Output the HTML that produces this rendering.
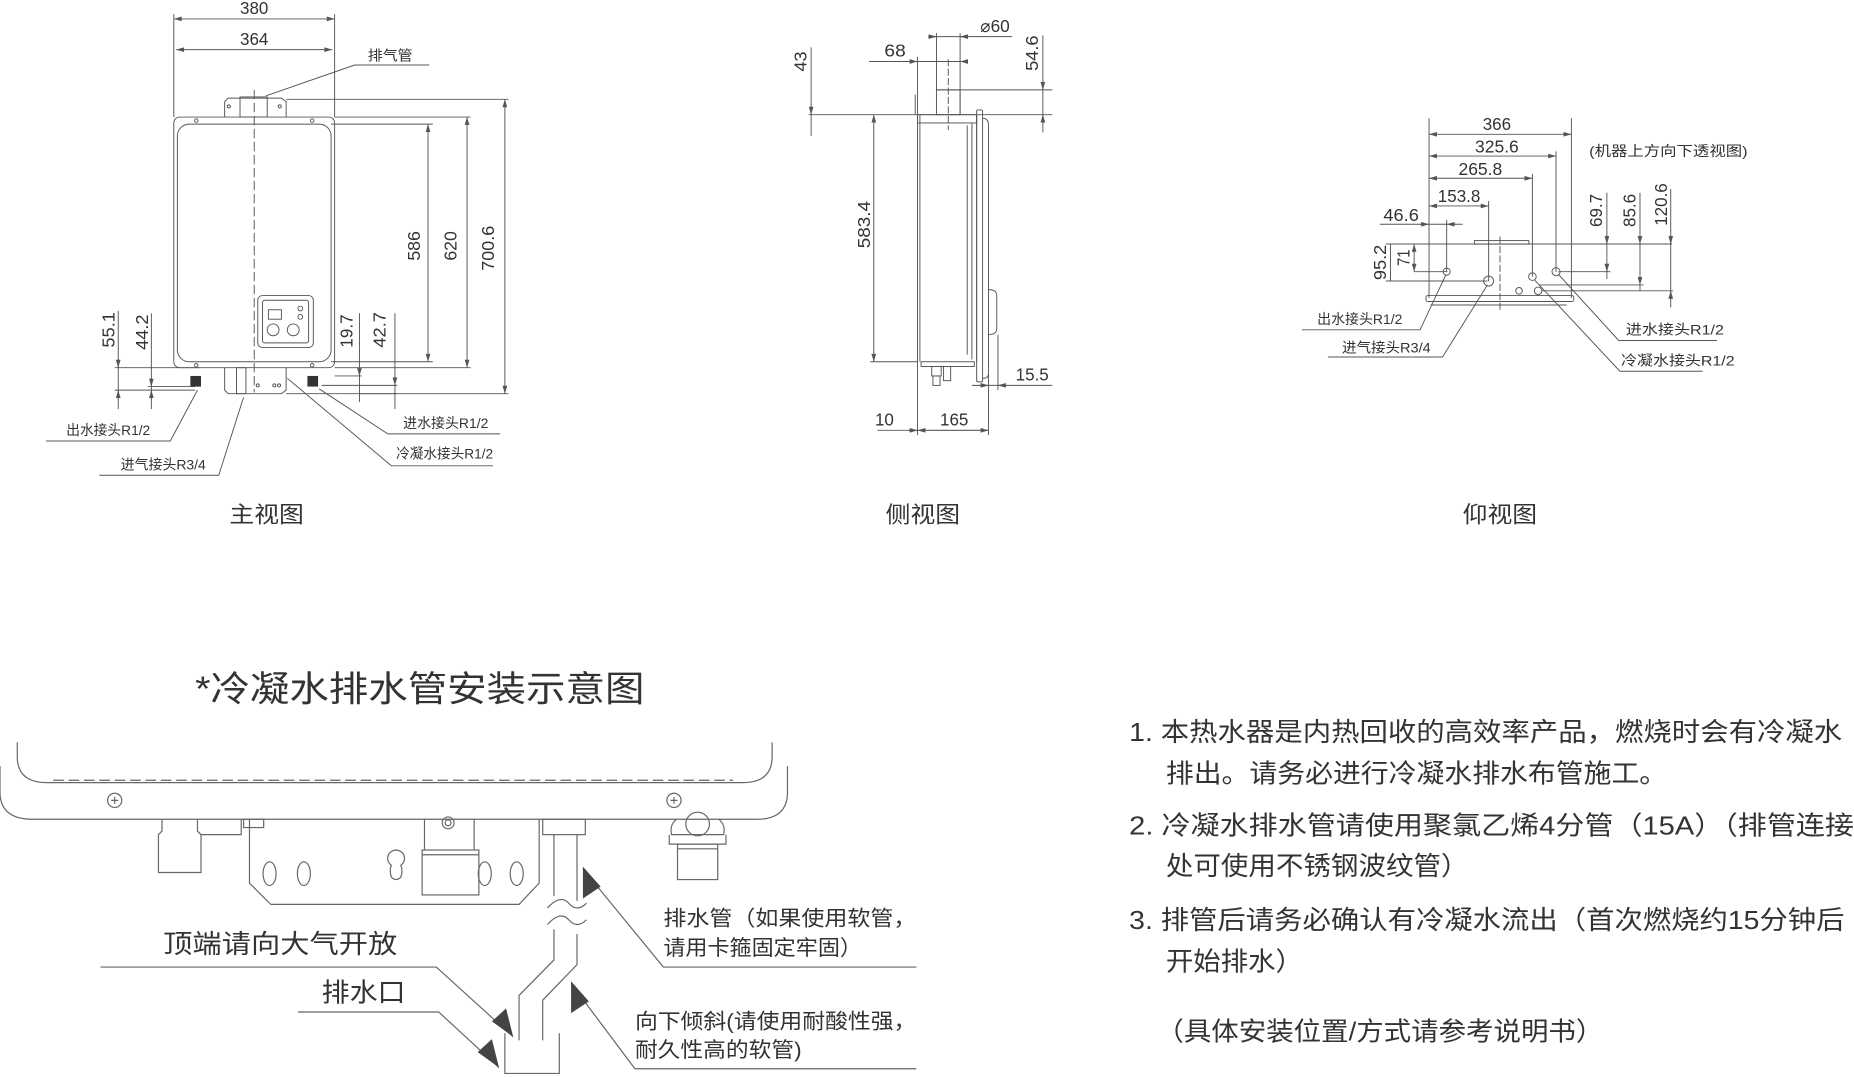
<!DOCTYPE html>
<html><head><meta charset="utf-8"><style>
html,body{margin:0;padding:0;background:#fff;}
svg{display:block}
text{font-family:"Liberation Sans","Noto Sans CJK SC",sans-serif;fill:#333}
</style></head><body>
<svg width="1854" height="1077" viewBox="0 0 1568 911" preserveAspectRatio="none" xmlns="http://www.w3.org/2000/svg">
<defs>
<marker id="a" viewBox="0 0 10 6" refX="10" refY="3" markerWidth="7" markerHeight="4" orient="auto-start-reverse" markerUnits="userSpaceOnUse"><path d="M0,0 L10,3 L0,6z" fill="#555"/></marker>
</defs>
<g stroke="#555" stroke-width="0.8" fill="none">
<line x1="147" y1="12" x2="147" y2="99"/>
<line x1="283" y1="12" x2="283" y2="99"/>
<line x1="147" y1="16" x2="283" y2="16" marker-start="url(#a)" marker-end="url(#a)"/>
<line x1="149" y1="42" x2="281" y2="42" marker-start="url(#a)" marker-end="url(#a)"/>
<path d="M190,99 V86 L193,83 H238 L242,86 V99"/>
<rect x="203" y="82" width="23" height="17"/>
<circle cx="193.5" cy="90" r="1.3"/><circle cx="236.6" cy="90" r="1.3"/>
<rect x="147" y="99" width="136" height="212" rx="5"/>
<rect x="150" y="105" width="130" height="201" rx="10"/>
<circle cx="166" cy="102" r="1.5"/><circle cx="264" cy="102" r="1.5"/>
<circle cx="166" cy="309" r="1.5"/><circle cx="264" cy="309" r="1.5"/>
<line x1="215" y1="76" x2="215" y2="332" stroke-dasharray="8,3"/>
<rect x="218" y="250" width="47" height="44" rx="4"/>
<rect x="222" y="254" width="39" height="36" rx="2"/>
<rect x="227" y="262" width="11" height="8"/>
<circle cx="231" cy="279" r="5"/><circle cx="248" cy="279" r="5"/>
<circle cx="254" cy="261" r="2"/><circle cx="254" cy="268" r="2"/>
<path d="M190,311 V330 L193,333 H238 L242,330 V311"/>
<rect x="200" y="311" width="8" height="22"/>
<circle cx="218" cy="326" r="1.3"/><circle cx="232" cy="326" r="1.3"/><circle cx="236" cy="326" r="1.3"/>
<line x1="280" y1="105" x2="366" y2="105"/>
<line x1="280" y1="306" x2="366" y2="306"/>
<line x1="362" y1="105" x2="362" y2="306" marker-start="url(#a)" marker-end="url(#a)"/>
<line x1="283" y1="99" x2="398" y2="99"/>
<line x1="283" y1="311" x2="398" y2="311"/>
<line x1="395" y1="99" x2="395" y2="311" marker-start="url(#a)" marker-end="url(#a)"/>
<line x1="242" y1="84" x2="430" y2="84"/>
<line x1="242" y1="333" x2="430" y2="333"/>
<line x1="427" y1="84" x2="427" y2="333" marker-start="url(#a)" marker-end="url(#a)"/>
<line x1="100" y1="263" x2="100" y2="346"/>
<line x1="128" y1="265" x2="128" y2="346"/>
<line x1="97" y1="311" x2="168" y2="311"/>
<line x1="125" y1="327" x2="165" y2="327"/>
<line x1="97" y1="330" x2="165" y2="330"/>
<path d="M100,304 L100,311" marker-end="url(#a)"/><path d="M100,338 L100,330" marker-end="url(#a)"/>
<path d="M128,320 L128,327" marker-end="url(#a)"/><path d="M128,338 L128,330" marker-end="url(#a)"/>
<line x1="304" y1="265" x2="304" y2="340"/>
<line x1="334" y1="265" x2="334" y2="346"/>
<line x1="283" y1="318" x2="306" y2="318"/>
<line x1="272" y1="326" x2="336" y2="326"/>
<line x1="304" y1="333" x2="336" y2="333"/>
<path d="M304,311 L304,318" marker-end="url(#a)"/><path d="M334,318 L334,326" marker-end="url(#a)"/>
<polyline points="363,55 300,55 225,81"/>
<polyline points="39,373 144,373 167,330"/>
<polyline points="84,402 185,402 206,336"/>
<polyline points="423,367 328,367 270,329"/>
<polyline points="417,394 331,394 243,320"/>

<line x1="776" y1="97" x2="776" y2="306"/>
<line x1="778" y1="97" x2="778" y2="306"/>
<rect x="776" y="97" width="50" height="7"/>
<line x1="826" y1="97" x2="826" y2="306"/>
<path d="M818,106 V300 M822,104 V304" />
<rect x="826" y="93" width="5" height="230" rx="1"/>
<path d="M831,100 Q836,100 836,106 V316 Q836,320 831,320"/>
<path d="M836,245 Q843,245 843,250 V278 Q843,283 836,283"/>
<line x1="774" y1="80" x2="774" y2="97"/>
<rect x="792" y="76" width="20" height="21"/>
<line x1="802" y1="50" x2="802" y2="110" stroke-dasharray="6,2"/>
<rect x="779" y="306" width="45" height="4"/>
<rect x="788" y="310" width="8" height="8"/><rect x="789" y="318" width="6" height="8"/>
<rect x="798" y="310" width="6" height="12"/>
<line x1="686" y1="40" x2="686" y2="115"/>
<path d="M686,90 L686,97" marker-end="url(#a)"/>
<line x1="684" y1="97" x2="890" y2="97"/>
<line x1="792" y1="76" x2="890" y2="76"/>
<line x1="735" y1="52" x2="816" y2="52"/>
<path d="M770,52 L776,52" marker-end="url(#a)"/><path d="M818,52 L812,52" marker-end="url(#a)"/>
<line x1="776" y1="48" x2="776" y2="97"/>
<line x1="787" y1="31" x2="856" y2="31"/>
<path d="M785,31 L792,31" marker-end="url(#a)"/><path d="M818,31 L812,31" marker-end="url(#a)"/>
<line x1="792" y1="28" x2="792" y2="76"/>
<line x1="812" y1="28" x2="812" y2="97"/>
<line x1="882" y1="30" x2="882" y2="112"/>
<path d="M882,69 L882,76" marker-end="url(#a)"/><path d="M882,104 L882,97" marker-end="url(#a)"/>
<line x1="739" y1="97" x2="739" y2="306" marker-start="url(#a)" marker-end="url(#a)"/>
<line x1="736" y1="306" x2="776" y2="306"/>
<line x1="776" y1="306" x2="776" y2="368"/>
<line x1="836" y1="316" x2="836" y2="368"/>
<line x1="844" y1="283" x2="844" y2="330"/>
<line x1="742" y1="364" x2="836" y2="364"/>
<path d="M768,364 L776,364" marker-end="url(#a)"/><path d="M776,364 L836,364" marker-start="url(#a)" marker-end="url(#a)"/>
<line x1="822" y1="326" x2="890" y2="326"/>
<path d="M828,326 L836,326" marker-end="url(#a)"/><path d="M852,326 L844,326" marker-end="url(#a)"/>

<line x1="1208.6" y1="100" x2="1208.6" y2="252"/>
<line x1="1329" y1="100" x2="1329" y2="252"/>
<line x1="1208.6" y1="113.6" x2="1329" y2="113.6" marker-start="url(#a)" marker-end="url(#a)"/>
<line x1="1208.6" y1="132" x2="1316" y2="132" marker-start="url(#a)" marker-end="url(#a)"/>
<line x1="1208.6" y1="150.8" x2="1296" y2="150.8" marker-start="url(#a)" marker-end="url(#a)"/>
<line x1="1208.6" y1="174.2" x2="1259" y2="174.2" marker-start="url(#a)" marker-end="url(#a)"/>
<line x1="1316" y1="128" x2="1316" y2="230"/>
<line x1="1296" y1="147" x2="1296" y2="234"/>
<line x1="1259" y1="170" x2="1259" y2="238"/>
<line x1="1223.5" y1="186" x2="1223.5" y2="230"/>
<line x1="1167" y1="189.7" x2="1237" y2="189.7"/>
<path d="M1201,189.7 L1208.6,189.7" marker-end="url(#a)"/><path d="M1231,189.7 L1223.5,189.7" marker-end="url(#a)"/>
<line x1="1172" y1="206.4" x2="1414" y2="206.4"/>
<rect x="1247" y="203.5" width="46" height="3"/>
<line x1="1268.6" y1="200" x2="1268.6" y2="262" stroke-dasharray="6,2"/>
<rect x="1206" y="250" width="125" height="5" rx="1.5"/>
<line x1="1210" y1="258" x2="1325" y2="258"/>
<circle cx="1223.5" cy="229.8" r="3"/>
<circle cx="1259" cy="237.7" r="4.2"/>
<circle cx="1316" cy="229.8" r="3.4"/>
<circle cx="1296" cy="234" r="3.2"/>
<circle cx="1284.7" cy="246" r="2.8"/>
<circle cx="1300.8" cy="246" r="3.2"/>
<line x1="1196" y1="229.8" x2="1224" y2="229.8"/>
<line x1="1172" y1="237.7" x2="1258" y2="237.7"/>
<line x1="1176" y1="206.4" x2="1176" y2="237.7"/>
<line x1="1196" y1="206.4" x2="1196" y2="229.8" marker-start="url(#a)" marker-end="url(#a)"/>
<line x1="1318" y1="229.8" x2="1362" y2="229.8"/>
<line x1="1302" y1="241" x2="1390" y2="241"/>
<line x1="1304" y1="246" x2="1415" y2="246"/>
<line x1="1359" y1="163" x2="1359" y2="236"/>
<line x1="1387" y1="163" x2="1387" y2="246"/>
<line x1="1413" y1="160" x2="1413" y2="260"/>
<path d="M1359,199 L1359,206.4" marker-end="url(#a)"/><path d="M1359,223 L1359,229.8" marker-end="url(#a)"/>
<path d="M1387,199 L1387,206.4" marker-end="url(#a)"/><path d="M1387,234 L1387,241" marker-end="url(#a)"/>
<path d="M1413,199 L1413,206.4" marker-end="url(#a)"/><path d="M1413,253 L1413,246" marker-end="url(#a)"/>
<polyline points="1101,279 1201,279 1223,232"/>
<polyline points="1123,302 1220,302 1258,241"/>
<polyline points="1452,288 1369,288 1318,232"/>
<polyline points="1440,314 1370,314 1298,237"/>

<g stroke="#666" stroke-width="1">
<path d="M14.6,628 V640 Q14.6,662 40,662 H628 Q653,662 653,640 V628"/>
<line x1="45" y1="660" x2="620" y2="660" stroke-dasharray="9,4"/>
<path d="M0,648 V670 Q0,693 28,693 H640 Q666,693 666,670 V648"/>
<circle cx="97" cy="677" r="6"/><path d="M94,677 H100 M97,674 V680"/>
<circle cx="570" cy="677" r="6"/><path d="M567,677 H573 M570,674 V680"/>
<path d="M137,693 V703 L134,706 V738 H170 V706 L167,703 V693"/>
<path d="M170,706 H204 V693"/>
<rect x="206" y="693" width="17" height="7"/>
<path d="M211,693 V747 L229,765 H439 L456,747 V693"/>
<ellipse cx="228" cy="739" rx="5.5" ry="10"/>
<ellipse cx="257" cy="739" rx="5.5" ry="10"/>
<ellipse cx="410" cy="739" rx="5.5" ry="10"/>
<ellipse cx="437" cy="739" rx="5.5" ry="10"/>
<path d="M331,742 Q329,736 331,732 Q326,728 329,722 Q335,716 341,722 Q344,728 339,732 Q341,736 339,742 Q335,746 331,742Z"/>
<path d="M359,693 V719 M401,693 V719"/>
<circle cx="379" cy="696" r="5"/><circle cx="379" cy="696" r="2.5"/>
<rect x="357" y="719" width="48" height="38"/>
<line x1="357" y1="723" x2="405" y2="723"/>
<rect x="459" y="693" width="36" height="13"/>
<path d="M468.5,706 V758 M488,706 V762"/>
<path d="M463,768 Q474,756 481,764 Q488,772 496,764"/>
<path d="M463,782 Q474,770 481,778 Q488,786 496,778"/>
<path d="M468.5,786 V812 L439,842 V880 M488,790 V816 L459,846 V880"/>
<path d="M427,874 V908 H473 V874"/>
<path d="M572,693 Q566,698 568,706 H612 Q614,698 608,693"/>
<circle cx="590" cy="697" r="10"/>
<path d="M566,706 V714 H614 V706"/>
<rect x="573" y="714" width="34" height="30"/>
<line x1="573" y1="718" x2="607" y2="718"/>
<polyline points="775,818 561,818 493,735"/>
<polyline points="775,904 537,904 483,832"/>
<polyline points="85,818 369,818 434,877"/>
<polyline points="252,856 371,856 422,903"/>
</g>
</g>
<g fill="#333">
<rect x="161" y="318" width="9" height="9"/>
<rect x="260" y="318" width="9" height="9"/>
</g>
<g fill="#444">
<path d="M493,733 L493,760 L508,750Z"/>
<path d="M483,830 L483,857 L498,847Z"/>
<path d="M434,877 L416,864 L428,853Z"/>
<path d="M422,903 L404,890 L416,879Z"/>
</g>

<g font-size="15">
<text x="215" y="12" text-anchor="middle" textLength="24" lengthAdjust="spacingAndGlyphs">380</text>
<text x="215" y="38" text-anchor="middle" textLength="24" lengthAdjust="spacingAndGlyphs">364</text>
<text transform="translate(355,208) rotate(-90)" text-anchor="middle" textLength="25" lengthAdjust="spacingAndGlyphs">586</text>
<text transform="translate(386,208) rotate(-90)" text-anchor="middle" textLength="25" lengthAdjust="spacingAndGlyphs">620</text>
<text transform="translate(418,210) rotate(-90)" text-anchor="middle" textLength="38" lengthAdjust="spacingAndGlyphs">700.6</text>
<text transform="translate(97,279) rotate(-90)" text-anchor="middle" textLength="30" lengthAdjust="spacingAndGlyphs">55.1</text>
<text transform="translate(125,281) rotate(-90)" text-anchor="middle" textLength="30" lengthAdjust="spacingAndGlyphs">44.2</text>
<text transform="translate(298,280) rotate(-90)" text-anchor="middle" textLength="28" lengthAdjust="spacingAndGlyphs">19.7</text>
<text transform="translate(326,279) rotate(-90)" text-anchor="middle" textLength="30" lengthAdjust="spacingAndGlyphs">42.7</text>
<text transform="translate(682,52) rotate(-90)" text-anchor="middle" textLength="17" lengthAdjust="spacingAndGlyphs">43</text>
<text x="748" y="48" textLength="18" lengthAdjust="spacingAndGlyphs">68</text>
<text x="829" y="27" textLength="25" lengthAdjust="spacingAndGlyphs">⌀60</text>
<text transform="translate(878,45) rotate(-90)" text-anchor="middle" textLength="30" lengthAdjust="spacingAndGlyphs">54.6</text>
<text transform="translate(736,190) rotate(-90)" text-anchor="middle" textLength="40" lengthAdjust="spacingAndGlyphs">583.4</text>
<text x="859" y="322" textLength="28" lengthAdjust="spacingAndGlyphs">15.5</text>
<text x="740" y="360" textLength="16" lengthAdjust="spacingAndGlyphs">10</text>
<text x="795" y="360" textLength="24" lengthAdjust="spacingAndGlyphs">165</text>
<text x="1266" y="110" text-anchor="middle" textLength="24" lengthAdjust="spacingAndGlyphs">366</text>
<text x="1266" y="129" text-anchor="middle" textLength="37" lengthAdjust="spacingAndGlyphs">325.6</text>
<text x="1252" y="148" text-anchor="middle" textLength="37" lengthAdjust="spacingAndGlyphs">265.8</text>
<text x="1234" y="171" text-anchor="middle" textLength="36" lengthAdjust="spacingAndGlyphs">153.8</text>
<text x="1170" y="187" textLength="30" lengthAdjust="spacingAndGlyphs">46.6</text>
<text transform="translate(1172,222) rotate(-90)" text-anchor="middle" textLength="30" lengthAdjust="spacingAndGlyphs">95.2</text>
<text transform="translate(1192,218) rotate(-90)" text-anchor="middle" textLength="14" lengthAdjust="spacingAndGlyphs">71</text>
<text transform="translate(1355,178) rotate(-90)" text-anchor="middle" textLength="28" lengthAdjust="spacingAndGlyphs">69.7</text>
<text transform="translate(1383,178) rotate(-90)" text-anchor="middle" textLength="28" lengthAdjust="spacingAndGlyphs">85.6</text>
<text transform="translate(1410,173) rotate(-90)" text-anchor="middle" textLength="36" lengthAdjust="spacingAndGlyphs">120.6</text>
</g>
<g font-size="12">
<text x="311" y="51" textLength="38" lengthAdjust="spacingAndGlyphs">排气管</text>
<text x="56" y="368" textLength="71" lengthAdjust="spacingAndGlyphs">出水接头R1/2</text>
<text x="102" y="397" textLength="72" lengthAdjust="spacingAndGlyphs">进气接头R3/4</text>
<text x="341" y="362" textLength="72" lengthAdjust="spacingAndGlyphs">进水接头R1/2</text>
<text x="335" y="388" textLength="82" lengthAdjust="spacingAndGlyphs">冷凝水接头R1/2</text>
<text x="1114" y="274" textLength="72" lengthAdjust="spacingAndGlyphs">出水接头R1/2</text>
<text x="1135" y="298" textLength="75" lengthAdjust="spacingAndGlyphs">进气接头R3/4</text>
<text x="1375" y="283" textLength="83" lengthAdjust="spacingAndGlyphs">进水接头R1/2</text>
<text x="1371" y="309" textLength="96" lengthAdjust="spacingAndGlyphs">冷凝水接头R1/2</text>
<text x="1344" y="132" textLength="134" lengthAdjust="spacingAndGlyphs">(机器上方向下透视图)</text>
</g>
<g font-size="19">
<text x="194" y="442" textLength="63" lengthAdjust="spacingAndGlyphs">主视图</text>
<text x="749" y="442" textLength="63" lengthAdjust="spacingAndGlyphs">侧视图</text>
<text x="1237" y="442" textLength="63" lengthAdjust="spacingAndGlyphs">仰视图</text>
</g>
<text x="165" y="593" font-size="30" textLength="380" lengthAdjust="spacingAndGlyphs">*冷凝水排水管安装示意图</text>
<g font-size="22">
<text x="138" y="806" textLength="198" lengthAdjust="spacingAndGlyphs">顶端请向大气开放</text>
<text x="272" y="847" textLength="71" lengthAdjust="spacingAndGlyphs">排水口</text>
</g>
<g font-size="18">
<text x="561" y="783" textLength="214" lengthAdjust="spacingAndGlyphs">排水管（如果使用软管，</text>
<text x="561" y="808" textLength="168" lengthAdjust="spacingAndGlyphs">请用卡箍固定牢固）</text>
<text x="537" y="870" textLength="238" lengthAdjust="spacingAndGlyphs">向下倾斜(请使用耐酸性强，</text>
<text x="537" y="894" textLength="141" lengthAdjust="spacingAndGlyphs">耐久性高的软管)</text>
</g>
<g font-size="22">
<text x="955" y="627" textLength="603" lengthAdjust="spacingAndGlyphs">1. 本热水器是内热回收的高效率产品，燃烧时会有冷凝水</text>
<text x="986" y="662" textLength="424" lengthAdjust="spacingAndGlyphs">排出。请务必进行冷凝水排水布管施工。</text>
<text x="955" y="706" textLength="613" lengthAdjust="spacingAndGlyphs">2. 冷凝水排水管请使用聚氯乙烯4分管（15A）（排管连接</text>
<text x="986" y="740" textLength="256" lengthAdjust="spacingAndGlyphs">处可使用不锈钢波纹管）</text>
<text x="955" y="786" textLength="605" lengthAdjust="spacingAndGlyphs">3. 排管后请务必确认有冷凝水流出（首次燃烧约15分钟后</text>
<text x="986" y="821" textLength="116" lengthAdjust="spacingAndGlyphs">开始排水）</text>
<text x="978" y="880" textLength="378" lengthAdjust="spacingAndGlyphs">（具体安装位置/方式请参考说明书）</text>
</g>
</svg>
</body></html>
